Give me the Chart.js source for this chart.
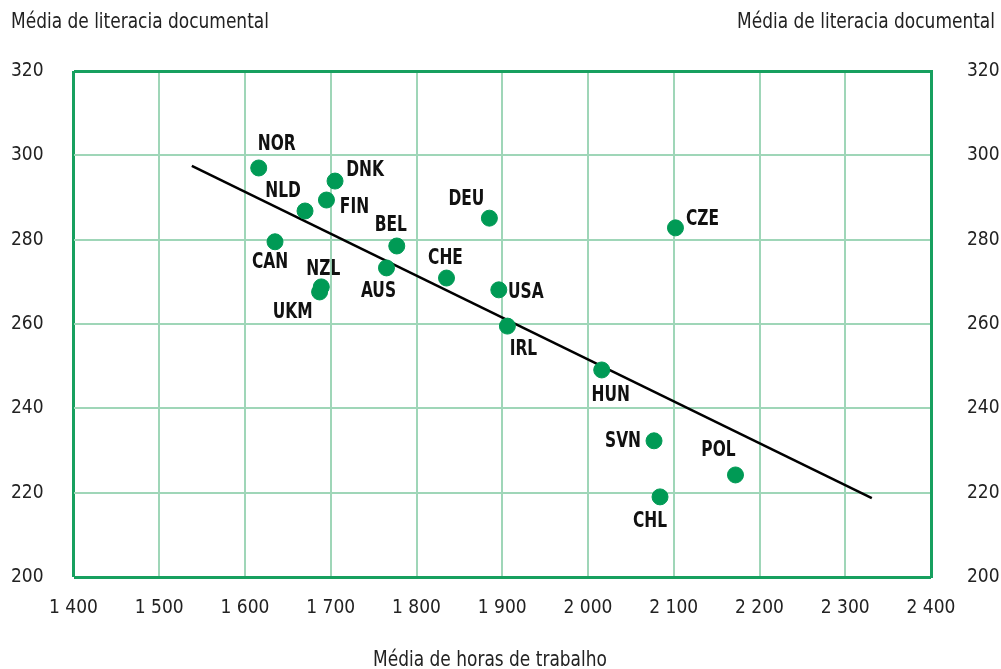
<!DOCTYPE html>
<html>
<head>
<meta charset="utf-8">
<script src="https://cdn.jsdelivr.net/npm/chart.js@4.4.1/dist/chart.umd.min.js"></script>
<style>
  html, body { margin: 0; padding: 0; background: #fff; }
  #wrap { width: 1001px; height: 669px; position: relative; }
</style>
</head>
<body>
<div id="wrap"><canvas id="c" width="1001" height="669"></canvas></div>
<script>
// countries, hours worked (x) and document literacy mean (y)
const countries = ["NOR","DNK","NLD","FIN","CAN","BEL","DEU","CZE","NZL","UKM","AUS","CHE","USA","IRL","HUN","SVN","POL","CHL"];
const hours =     [1616, 1705, 1670, 1695, 1635, 1777, 1885, 2102, 1689, 1687, 1765, 1835, 1896, 1906, 2016, 2077, 2172, 2084];
const literacy =  [297.0, 293.9, 286.8, 289.4, 279.5, 278.5, 285.1, 282.8, 268.8, 267.6, 273.3, 270.9, 268.1, 259.5, 249.1, 232.3, 224.2, 219.0];
const trendX = [1538, 2331];
const trendY = [297.5, 218.7];
const xTicks = [1400, 1500, 1600, 1700, 1800, 1900, 2000, 2100, 2200, 2300, 2400];
const yTicks = [200, 220, 240, 260, 280, 300, 320];

const yTitle = "Média de literacia documental";
const xTitle = "Média de horas de trabalho";

// label offsets (px) from each point centre
const labelOffset = {
  NOR: [18, -24], DNK: [30, -11], NLD: [-22, -20], FIN: [28, 7], CAN: [-5, 21],
  BEL: [-6, -21], DEU: [-23, -19], CZE: [27, -9], NZL: [2, -18], UKM: [-27, 20],
  AUS: [-8, 23], CHE: [-1, -20], USA: [27, 2], IRL: [16, 23], HUN: [9, 25],
  SVN: [-31, 0], POL: [-17, -25], CHL: [-10, 24]
};

const GREEN = "#009a55";
const GRID = "#9fd6b8";
const FRAME = "#17a05f";
const condensed = "'Liberation Sans Narrow', 'DejaVu Sans Condensed', 'Roboto Condensed', Arial, sans-serif";

const fmt = v => String(v).replace(/\B(?=(\d{3})+(?!\d))/g, " ");

// narrow text: draw tall font squeezed horizontally
function narrowText(ctx, txt, x, y, sx) {
  ctx.save();
  ctx.translate(x, y);
  ctx.scale(sx, 1);
  ctx.fillText(txt, 0, 0);
  ctx.restore();
}

const textPlugin = {
  id: "texts",
  afterDatasetsDraw(chart) {
    const { ctx } = chart;
    const meta = chart.getDatasetMeta(0);
    ctx.save();
    ctx.fillStyle = "#111";
    ctx.font = "bold 22px " + condensed;
    ctx.textAlign = "center";
    ctx.textBaseline = "middle";
    meta.data.forEach((pt, i) => {
      const off = labelOffset[countries[i]] || [0, -18];
      narrowText(ctx, countries[i], pt.x + off[0], pt.y + off[1], 0.78);
    });
    ctx.font = "21px " + condensed;
    ctx.fillStyle = "#222";
    ctx.textAlign = "left";
    narrowText(ctx, yTitle, 11, 23, 0.9);
    ctx.textAlign = "right";
    narrowText(ctx, yTitle, 995, 23, 0.9);
    ctx.textAlign = "center";
    narrowText(ctx, xTitle, 490, 661, 0.9);
    ctx.restore();
  }
};

const isEdge = c => c.tick && [1400, 2400, 200, 320].includes(c.tick.value);
const frameColor = c => isEdge(c) ? FRAME : GRID;
const frameWidth = c => isEdge(c) ? 3 : 2;

new Chart(document.getElementById("c"), {
  type: "scatter",
  data: {
    datasets: [
      {
        label: "Países",
        data: countries.map((c, i) => ({ x: hours[i], y: literacy[i] })),
        backgroundColor: GREEN,
        borderColor: GREEN,
        pointRadius: 8,
        pointHoverRadius: 8
      },
      {
        label: "Tendência",
        data: trendX.map((x, i) => ({ x, y: trendY[i] })),
        showLine: true,
        borderColor: "#000",
        borderWidth: 2.5,
        pointRadius: 0,
        fill: false
      }
    ]
  },
  options: {
    responsive: false,
    animation: false,
    layout: { padding: { top: 71, left: 0, right: 0, bottom: 0 } },
    plugins: { legend: { display: false }, tooltip: { enabled: false } },
    scales: {
      x: {
        type: "linear",
        min: 1400, max: 2400,
        afterBuildTicks: s => { s.ticks = xTicks.map(v => ({ value: v })); },
        afterFit: s => { s.height = 92; },
        grid: { color: frameColor, lineWidth: frameWidth, drawTicks: false },
        border: { display: false },
        ticks: { padding: 20, color: "#222", font: { family: condensed, size: 19 }, callback: v => fmt(v), maxRotation: 0 }
      },
      y: {
        type: "linear",
        position: "left",
        min: 200, max: 320,
        afterBuildTicks: s => { s.ticks = yTicks.map(v => ({ value: v })); },
        afterFit: s => { s.width = 73.5; },
        grid: { color: frameColor, lineWidth: frameWidth, drawTicks: false },
        border: { display: false },
        ticks: { padding: 30, color: "#222", font: { family: condensed, size: 19 } }
      },
      y2: {
        type: "linear",
        position: "right",
        min: 200, max: 320,
        afterBuildTicks: s => { s.ticks = yTicks.map(v => ({ value: v })); },
        afterFit: s => { s.width = 70; },
        grid: { display: false, drawTicks: false },
        border: { display: true, color: FRAME, width: 3 },
        ticks: { padding: 36, color: "#222", font: { family: condensed, size: 19 } }
      }
    }
  },
  plugins: [textPlugin]
});
</script>
</body>
</html>
